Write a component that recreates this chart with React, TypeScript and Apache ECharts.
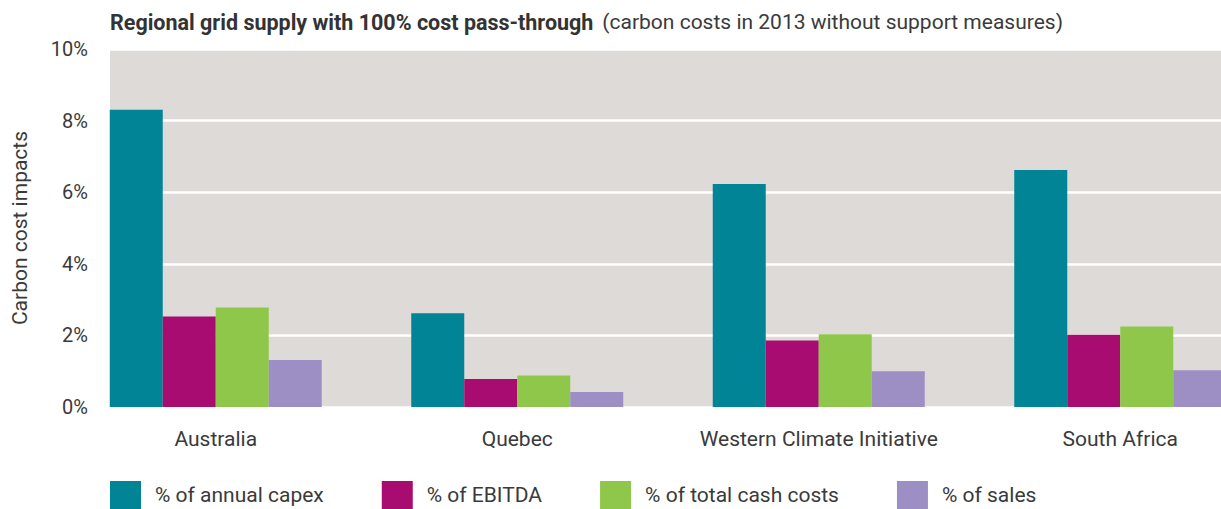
import React, { useEffect, useRef } from "react";
import * as echarts from "echarts";

const categories = ["Australia", "Quebec", "Western Climate Initiative", "South Africa"];
const seriesNames = ["% of annual capex", "% of EBITDA", "% of total cash costs", "% of sales"];
const capex = [8.3, 2.62, 6.23, 6.62];
const ebitda = [2.53, 0.78, 1.86, 2.02];
const cashCosts = [2.78, 0.88, 2.03, 2.25];
const sales = [1.31, 0.42, 1.0, 1.03];
const seriesColors = ["#008496", "#A80C70", "#8FC74A", "#9D8FC4"];
const titleMain = "Regional grid supply with 100% cost pass-through";
const titleSub = "(carbon costs in 2013 without support measures)";
const yAxisName = "Carbon cost impacts";

const FONT = "Roboto, 'DejaVu Sans', sans-serif";
const TEXT = "#3a3a3a";

export default function App() {
  const ref = useRef<HTMLDivElement>(null);
  useEffect(() => {
    if (!ref.current) return;
    const chart = echarts.init(ref.current, undefined, { renderer: "svg" });
    const values = [capex, ebitda, cashCosts, sales];
    chart.setOption({
      animation: false,
      textStyle: { fontFamily: FONT, color: TEXT },
      title: {
        left: 110,
        top: 11,
        padding: 0,
        text: `{b|${titleMain}}  {n|${titleSub}}`,
        textStyle: {
          rich: {
            b: { fontFamily: FONT, fontWeight: "bold", fontSize: 21.5, color: "#333" },
            n: { fontFamily: FONT, fontWeight: "normal", fontSize: 21, color: TEXT },
          },
        },
      },
      legend: {
        left: 110,
        top: 481,
        padding: 0,
        itemWidth: 31,
        itemHeight: 28,
        itemGap: 58,
        icon: "rect",
        data: seriesNames,
        textStyle: { fontFamily: FONT, fontSize: 21, color: TEXT, padding: [0, 0, 0, 9] },
      },
      grid: [
        {
          left: 110,
          right: 0,
          top: 49,
          bottom: 102,
          show: true,
          backgroundColor: "#DEDAD7",
          borderWidth: 0,
          containLabel: false,
          outerBoundsMode: "none",
        },
        { left: 65, right: -50, top: 49, bottom: 102, containLabel: false, outerBoundsMode: "none" },
      ],
      xAxis: [
        { type: "category", gridIndex: 0, data: categories, show: false },
        {
          type: "category",
          gridIndex: 1,
          data: categories,
          axisLine: { show: false },
          axisTick: { show: false },
          axisLabel: { interval: 0, fontFamily: FONT, fontSize: 21, color: TEXT, margin: 21 },
        },
      ],
      yAxis: [
        {
          type: "value",
          gridIndex: 0,
          min: 0,
          max: 10,
          interval: 2,
          name: yAxisName,
          nameLocation: "middle",
          nameGap: 80,
          nameTextStyle: { fontFamily: FONT, fontSize: 21, color: TEXT },
          axisLine: { show: false },
          axisTick: { show: false },
          axisLabel: { formatter: "{value}%", fontFamily: FONT, fontSize: 20, color: TEXT, margin: 22 },
          splitLine: { show: true, lineStyle: { color: "#ffffff", width: 2.5 } },
        },
        { type: "value", gridIndex: 1, min: 0, max: 10, interval: 2, show: false, splitLine: { show: false } },
      ],
      series: seriesNames.map((name, i) => ({
        name,
        type: "bar",
        xAxisIndex: 1,
        yAxisIndex: 1,
        data: values[i],
        barWidth: 53,
        barGap: "0%",
        itemStyle: { color: seriesColors[i] },
      })),
    });
    return () => chart.dispose();
  }, []);
  return (
    <div
      ref={ref}
      style={{ position: "absolute", left: 0, top: 0, width: 1221, height: 509, background: "#fff" }}
    />
  );
}
